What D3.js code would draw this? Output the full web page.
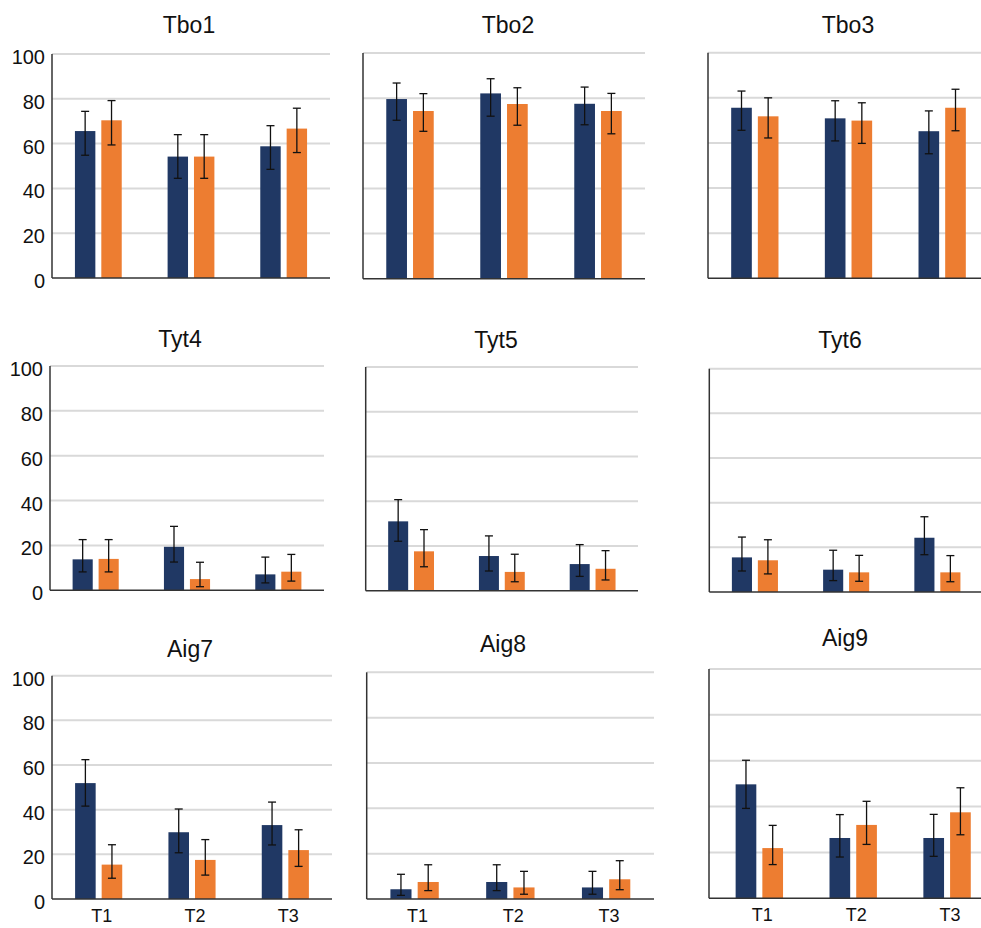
<!DOCTYPE html>
<html>
<head>
<meta charset="utf-8">
<script src="https://cdn.jsdelivr.net/npm/d3@7/dist/d3.min.js"></script>
<style>
  html, body { margin: 0; padding: 0; background: #ffffff; }
  svg { display: block; font-family: "Liberation Sans", Arial, sans-serif; }
</style>
</head>
<body>
<svg id="chart" width="981" height="928"></svg>
<script>
// ---- data ----
const panelTitles = ["Tbo1", "Tbo2", "Tbo3", "Tyt4", "Tyt5", "Tyt6", "Aig7", "Aig8", "Aig9"];
const categories = ["T1", "T2", "T3"];
const yTicks = [0, 20, 40, 60, 80, 100];

// first series (navy): mean, lower and upper error-bar ends per panel
const navyMean = [
  [65.6, 54.2, 58.8], [79.6, 82.1, 77.5], [75.6, 70.9, 65.2],
  [13.8, 19.4, 7.1],  [31.0, 15.5, 11.9], [15.5, 10.0, 24.3],
  [51.9, 29.9, 33.1], [4.3, 7.5, 5.1],    [49.7, 26.3, 26.3]
];
const navyLow = [
  [54.8, 44.5, 48.5], [70.2, 72.0, 68.2], [65.6, 60.9, 55.2],
  [8.2, 12.6, 3.3],   [22.1, 8.8, 6.4],   [9.4, 5.1, 16.7],
  [41.6, 20.7, 24.2], [1.6, 3.7, 2.1],    [39.2, 18.0, 18.3]
];
const navyHigh = [
  [74.4, 64.0, 68.0], [86.7, 88.6, 84.9], [83.0, 78.7, 74.2],
  [22.6, 28.5, 14.8], [40.7, 24.5, 20.6], [24.6, 18.7, 33.7],
  [62.4, 40.3, 43.4], [10.9, 15.1, 12.2], [60.2, 36.5, 36.6]
];

// second series (orange)
const orangeMean = [
  [70.4, 54.2, 66.7], [74.3, 77.4, 74.3], [71.8, 69.9, 75.6],
  [14.0, 5.0, 8.3],   [17.6, 8.4, 9.8],   [14.2, 8.8, 8.8],
  [15.4, 17.5, 21.9], [7.5, 5.1, 8.7],    [21.9, 32.0, 37.5]
];
const orangeLow = [
  [59.4, 44.5, 56.0], [65.3, 68.0, 64.2], [62.2, 59.8, 65.4],
  [8.2, 1.6, 4.1],    [10.7, 4.0, 4.8],   [8.1, 4.8, 4.6],
  [9.3, 10.7, 14.6],  [3.7, 2.1, 4.1],    [14.7, 23.5, 27.7]
];
const orangeHigh = [
  [79.2, 64.0, 75.8], [82.0, 84.6, 82.1], [80.0, 77.8, 83.8],
  [22.6, 12.5, 16.0], [27.3, 16.3, 17.9], [23.4, 16.4, 16.3],
  [24.3, 26.6, 31.0], [15.1, 12.2, 16.9], [31.8, 42.3, 48.2]
];

// ---- layout ----
const frames = [
  { left: 52,    top: 54,    bottom: 278,   right: 330, titleX: 189, titleY: 33 },
  { left: 363,   top: 53,    bottom: 278.7, right: 645, titleX: 508, titleY: 33 },
  { left: 708,   top: 52.7,  bottom: 278.3, right: 989, titleX: 848, titleY: 33 },
  { left: 50,    top: 366,   bottom: 590.3, right: 324, titleX: 180, titleY: 347 },
  { left: 365.7, top: 367,   bottom: 590.7, right: 638, titleX: 496, titleY: 348 },
  { left: 709.3, top: 368.7, bottom: 592,   right: 983, titleX: 840, titleY: 348 },
  { left: 52,    top: 675.7, bottom: 899,   right: 332, titleX: 190, titleY: 657 },
  { left: 366.7, top: 672.3, bottom: 899,   right: 654, titleX: 503, titleY: 652 },
  { left: 709,   top: 669,   bottom: 898.3, right: 994, titleX: 845, titleY: 646, xStart: 712.4 }
];
const navyColor = "#203864";
const orangeColor = "#ED7D31";
const showYLabels = [true, false, false, true, false, false, true, false, false];
const showXLabels = [false, false, false, false, false, false, true, true, true];

const svg = d3.select("#chart");

frames.forEach((f, i) => {
  const g = svg.append("g");

  const y = d3.scaleLinear().domain([0, 100]).range([f.bottom, f.top]);
  const x0 = d3.scaleBand().domain(categories)
    .range([f.xStart ?? f.left, f.right]).paddingInner(0).paddingOuter(0);
  const groupW = x0.bandwidth() * 0.505;
  const x1 = d3.scaleBand().domain(["navy", "orange"])
    .range([-groupW / 2, groupW / 2]).paddingInner(0.226).paddingOuter(0);

  // horizontal gridlines
  g.append("g").selectAll("line")
    .data(yTicks.filter(t => t > 0))
    .join("line")
    .attr("x1", f.left).attr("x2", f.right)
    .attr("y1", d => y(d)).attr("y2", d => y(d))
    .attr("stroke", "#d9d9d9").attr("stroke-width", 2);

  // y tick labels on the left column
  if (showYLabels[i]) {
    g.append("g").selectAll("text")
      .data(yTicks)
      .join("text")
      .attr("x", f.left - 7)
      .attr("y", d => y(d) + 3)
      .attr("dy", "0.35em")
      .attr("text-anchor", "end")
      .attr("font-size", 20)
      .attr("fill", "#111")
      .text(d => d);
  }

  const rows = categories.map((c, k) => [
    { cat: c, key: "navy", v: navyMean[i][k], lo: navyLow[i][k], hi: navyHigh[i][k], color: navyColor },
    { cat: c, key: "orange", v: orangeMean[i][k], lo: orangeLow[i][k], hi: orangeHigh[i][k], color: orangeColor }
  ]).flat();

  const cx = d => x0(d.cat) + x0.bandwidth() / 2 + x1(d.key);

  // bars
  g.append("g").selectAll("rect")
    .data(rows)
    .join("rect")
    .attr("x", d => cx(d))
    .attr("width", x1.bandwidth())
    .attr("y", d => y(d.v))
    .attr("height", d => y(0) - y(d.v))
    .attr("fill", d => d.color);

  // error bars
  const eb = g.append("g").attr("stroke", "#111").attr("stroke-width", 1.3);
  const mid = d => cx(d) + x1.bandwidth() / 2;
  eb.selectAll("line.v").data(rows).join("line").attr("class", "v")
    .attr("x1", mid).attr("x2", mid)
    .attr("y1", d => y(d.hi)).attr("y2", d => y(d.lo));
  eb.selectAll("line.t").data(rows).join("line").attr("class", "t")
    .attr("x1", d => mid(d) - 4).attr("x2", d => mid(d) + 4)
    .attr("y1", d => y(d.hi)).attr("y2", d => y(d.hi));
  eb.selectAll("line.b").data(rows).join("line").attr("class", "b")
    .attr("x1", d => mid(d) - 4).attr("x2", d => mid(d) + 4)
    .attr("y1", d => y(d.lo)).attr("y2", d => y(d.lo));

  // axis lines
  g.append("line")
    .attr("x1", f.left).attr("x2", f.left)
    .attr("y1", f.top).attr("y2", f.bottom)
    .attr("stroke", "#333").attr("stroke-width", 1.5);
  g.append("line")
    .attr("x1", f.left).attr("x2", f.right)
    .attr("y1", f.bottom).attr("y2", f.bottom)
    .attr("stroke", "#333").attr("stroke-width", 1.5);

  // x category labels on the bottom row
  if (showXLabels[i]) {
    g.append("g").selectAll("text")
      .data(categories)
      .join("text")
      .attr("x", d => x0(d) + x0.bandwidth() / 2 + 3)
      .attr("y", f.bottom + 23)
      .attr("text-anchor", "middle")
      .attr("font-size", 18)
      .attr("fill", "#111")
      .text(d => d);
  }

  // panel title
  g.append("text")
    .attr("x", f.titleX)
    .attr("y", f.titleY)
    .attr("text-anchor", "middle")
    .attr("font-size", 23)
    .attr("fill", "#111")
    .text(panelTitles[i]);
});
</script>
</body>
</html>
